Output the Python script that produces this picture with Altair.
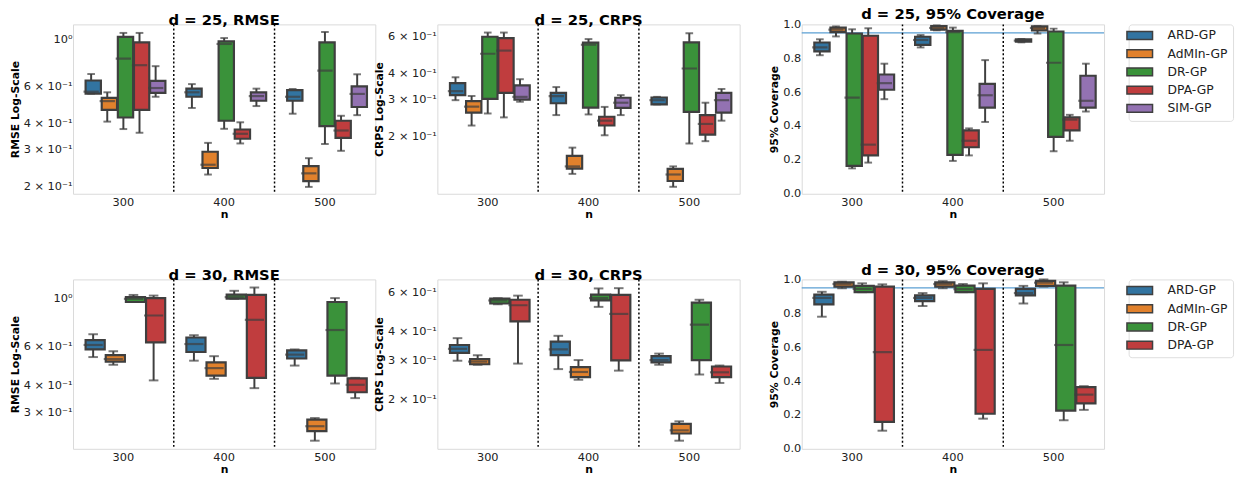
import altair as alt
import pandas as pd

# ---------------- data ----------------
N_VALUES = [300, 400, 500]
METHODS_D25 = ["ARD-GP", "AdMIn-GP", "DR-GP", "DPA-GP", "SIM-GP"]
METHODS_D30 = ["ARD-GP", "AdMIn-GP", "DR-GP", "DPA-GP"]
COLORS = ["#3274a1", "#e1812c", "#3a923a", "#c03d3e", "#9372b2"]

# five-number summaries per method: one (whisker low, Q1, median, Q3, whisker high) per n
RMSE_D25 = {
    "ARD-GP":   [(0.556, 0.556, 0.568, 0.642, 0.689), (0.475, 0.537, 0.564, 0.587, 0.617), (0.446, 0.514, 0.537, 0.578, 0.585)],
    "AdMIn-GP": [(0.409, 0.465, 0.512, 0.531, 0.564), (0.229, 0.246, 0.255, 0.294, 0.324), (0.200, 0.213, 0.232, 0.251, 0.274)],
    "DR-GP":    [(0.377, 0.428, 0.816, 1.036, 1.081), (0.378, 0.413, 0.958, 0.986, 1.022), (0.320, 0.389, 0.715, 0.975, 1.093)],
    "DPA-GP":   [(0.362, 0.465, 0.759, 0.975, 1.081), (0.322, 0.339, 0.358, 0.375, 0.406), (0.297, 0.342, 0.371, 0.413, 0.436)],
    "SIM-GP":   [(0.537, 0.560, 0.591, 0.639, 0.751), (0.485, 0.514, 0.541, 0.564, 0.587), (0.439, 0.480, 0.554, 0.602, 0.687)],
}
CRPS_D25 = {
    "ARD-GP":   [(0.299, 0.316, 0.330, 0.360, 0.384), (0.254, 0.289, 0.3125, 0.3236, 0.345), (0.2856, 0.2856, 0.299, 0.308, 0.310)],
    "AdMIn-GP": [(0.2266, 0.261, 0.2786, 0.296, 0.313), (0.1336, 0.1416, 0.145, 0.1627, 0.178), (0.116, 0.1236, 0.1327, 0.141, 0.145)],
    "DR-GP":    [(0.2585, 0.303, 0.4966, 0.598, 0.626), (0.2558, 0.2757, 0.548, 0.5605, 0.583), (0.186, 0.2633, 0.4228, 0.5628, 0.6216)],
    "DPA-GP":   [(0.2477, 0.3236, 0.514, 0.589, 0.626), (0.2037, 0.2266, 0.239, 0.2495, 0.2778), (0.191, 0.205, 0.2306, 0.254, 0.2908)],
    "SIM-GP":   [(0.294, 0.301, 0.310, 0.3514, 0.376), (0.254, 0.2748, 0.2908, 0.307, 0.316), (0.239, 0.261, 0.299, 0.3236, 0.338)],
}
COV_D25 = {
    "ARD-GP":   [(0.818, 0.841, 0.864, 0.893, 0.912), (0.864, 0.879, 0.908, 0.927, 0.937), (0.894, 0.898, 0.904, 0.912, 0.914)],
    "AdMIn-GP": [(0.929, 0.954, 0.969, 0.981, 0.988), (0.965, 0.969, 0.979, 0.990, 0.994), (0.946, 0.965, 0.979, 0.988, 0.990)],
    "DR-GP":    [(0.150, 0.165, 0.568, 0.946, 0.971), (0.194, 0.230, 0.954, 0.962, 0.981), (0.251, 0.336, 0.7735, 0.958, 0.975)],
    "DPA-GP":   [(0.184, 0.2265, 0.290, 0.933, 0.977), (0.2265, 0.2745, 0.313, 0.374, 0.386), (0.313, 0.374, 0.4376, 0.451, 0.466)],
    "SIM-GP":   [(0.5585, 0.614, 0.653, 0.704, 0.768), (0.424, 0.5086, 0.5816, 0.649, 0.789), (0.4856, 0.5086, 0.549, 0.697, 0.768)],
}
RMSE_D30 = {
    "ARD-GP":   [(0.538, 0.583, 0.611, 0.643, 0.684), (0.518, 0.5675, 0.617, 0.661, 0.677), (0.492, 0.530, 0.552, 0.577, 0.583)],
    "AdMIn-GP": [(0.496, 0.513, 0.527, 0.549, 0.5715), (0.428, 0.443, 0.479, 0.509, 0.543), (0.2233, 0.247, 0.260, 0.2785, 0.2833)],
    "DR-GP":    [(0.960, 0.960, 0.993, 1.010, 1.034), (0.993, 0.993, 1.010, 1.037, 1.080), (0.4076, 0.443, 0.715, 0.960, 1.000)],
    "DPA-GP":   [(0.421, 0.628, 0.833, 1.000, 1.027), (0.388, 0.4325, 0.796, 1.034, 1.118), (0.3494, 0.3715, 0.402, 0.430, 0.4325)],
}
CRPS_D30 = {
    "ARD-GP":   [(0.298, 0.3227, 0.3366, 0.350, 0.3754), (0.2735, 0.3155, 0.3346, 0.3623, 0.3845), (0.286, 0.2932, 0.300, 0.3124, 0.3205)],
    "AdMIn-GP": [(0.286, 0.2874, 0.2953, 0.303, 0.3155), (0.2453, 0.252, 0.2656, 0.279, 0.300), (0.1315, 0.1415, 0.1462, 0.1562, 0.1603)],
    "DR-GP":    [(0.531, 0.535, 0.552, 0.563, 0.565), (0.517, 0.5525, 0.5655, 0.586, 0.6243), (0.2588, 0.300, 0.431, 0.540, 0.556)],
    "DPA-GP":   [(0.2894, 0.4458, 0.5255, 0.556, 0.580), (0.2693, 0.299, 0.481, 0.585, 0.626), (0.2374, 0.252, 0.2647, 0.281, 0.2837)],
}
COV_D30 = {
    "ARD-GP":   [(0.780, 0.8525, 0.891, 0.910, 0.927), (0.843, 0.8716, 0.891, 0.906, 0.9195), (0.858, 0.906, 0.9195, 0.944, 0.962)],
    "AdMIn-GP": [(0.948, 0.958, 0.973, 0.983, 0.9866), (0.948, 0.958, 0.973, 0.983, 0.990), (0.958, 0.962, 0.981, 0.992, 1.000)],
    "DR-GP":    [(0.925, 0.925, 0.944, 0.962, 0.977), (0.925, 0.925, 0.9425, 0.9636, 0.973), (0.1686, 0.226, 0.613, 0.9636, 0.983)],
    "DPA-GP":   [(0.107, 0.159, 0.571, 0.958, 0.971), (0.178, 0.207, 0.584, 0.944, 0.977), (0.230, 0.268, 0.320, 0.364, 0.370)],
}

RMSE_TICKS = [0.2, 0.3, 0.4, 0.6, 1.0]
CRPS_TICKS = [0.2, 0.3, 0.4, 0.6]
COV_TICKS = [0.0, 0.2, 0.4, 0.6, 0.8, 1.0]
TARGET_COVERAGE = [0.95]
SEPARATORS = [300, 400]

# ---------------- styling ----------------
FONT = "DejaVu Sans"
GRAY = "#3f3f3f"
PW, PH = 307, 172
LOG_LABEL = "datum.value >= 0.99 ? '10\u2070' : format(datum.value * 10, '.0f') + ' \u00d7 10\u207b\u00b9'"


def panel(stats, methods, title, ytitle, ydomain, ytype, yticks, legend_on):
    rows = []
    for m in methods:
        for n, (lo, q1, med, q3, hi) in zip(N_VALUES, stats[m]):
            rows.append(dict(n=n, method=m, lo=lo, q1=q1, med=med, q3=q3, hi=hi))
    df = pd.DataFrame(rows)
    k = len(methods)
    pad = (k / 0.8 - k) / 2
    step = PW / 3 / (k + 2 * pad)
    boxw = step * 0.95

    if ytype == "log":
        yscale = alt.Scale(type="log", domain=ydomain, nice=False)
        yaxis = alt.Axis(title=ytitle, values=yticks, labelExpr=LOG_LABEL)
    else:
        yscale = alt.Scale(domain=ydomain, nice=False, zero=False)
        yaxis = alt.Axis(title=ytitle, values=yticks, format=".1f")

    xenc = alt.X("n:O", scale=alt.Scale(paddingInner=0, paddingOuter=0),
                 axis=alt.Axis(title="n", labelAngle=0))
    xoff = alt.XOffset("method:N", sort=methods,
                       scale=alt.Scale(domain=methods, paddingInner=0, paddingOuter=pad))

    def Y(field):
        return alt.Y(f"{field}:Q", scale=yscale, axis=yaxis)

    base = alt.Chart(df)
    whisk = base.mark_rule(color=GRAY, strokeWidth=2).encode(
        x=xenc, xOffset=xoff, y=Y("lo"), y2="hi:Q")
    if legend_on:
        leg = alt.Legend(
            title=None, orient="none", legendX=PW + 25, legendY=0,
            symbolType="M-3.25,-1H3.25V1H-3.25Z", symbolSize=64,
            symbolStrokeColor=GRAY, symbolStrokeWidth=1.5, symbolOpacity=1,
            labelFont=FONT, labelFontSize=12.5, labelColor="#222222",
            labelOffset=22, padding=5, rowPadding=3.5,
            strokeColor="#dddddd", fillColor="white", cornerRadius=3,
        )
    else:
        leg = None
    box = base.mark_bar(stroke=GRAY, strokeWidth=2.2, opacity=1,
                        width=alt.RelativeBandSize(0.95)).encode(
        x=xenc, xOffset=xoff, y=Y("q1"), y2="q3:Q",
        color=alt.Color("method:N", scale=alt.Scale(domain=methods, range=COLORS[:k]),
                        legend=leg))
    median = base.mark_tick(color=GRAY, thickness=2.2, size=boxw).encode(
        x=xenc, xOffset=xoff, y=Y("med"))
    cap_lo = base.mark_tick(color=GRAY, thickness=2, size=boxw / 2).encode(
        x=xenc, xOffset=xoff, y=Y("lo"))
    cap_hi = base.mark_tick(color=GRAY, thickness=2, size=boxw / 2).encode(
        x=xenc, xOffset=xoff, y=Y("hi"))
    sep = alt.Chart(pd.DataFrame({"n": SEPARATORS})).mark_rule(
        color="black", strokeWidth=1.5, strokeDash=[2, 2.2]).encode(
        x=alt.X("n:O", bandPosition=1, scale=alt.Scale(paddingInner=0, paddingOuter=0),
                axis=alt.Axis(title="n", labelAngle=0)))

    layers = []
    if ytype != "log":
        layers.append(alt.Chart(pd.DataFrame({"target": TARGET_COVERAGE})).mark_rule(
            color="#5b9fd3", strokeWidth=1.3).encode(y=Y("target")))
    layers += [whisk, box, median, cap_lo, cap_hi, sep]
    return alt.layer(*layers).properties(
        width=PW, height=PH,
        title=alt.TitleParams(title, font=FONT, fontSize=15, fontWeight="bold",
                              color="black", offset=-4, frame="group"),
    )


def row(d, methods, rmse, crps, cov, rmse_dom, crps_dom):
    p1 = panel(rmse, methods, f"d = {d}, RMSE", "RMSE Log-Scale", rmse_dom, "log", RMSE_TICKS, False)
    p2 = panel(crps, methods, f"d = {d}, CRPS", "CRPS Log-Scale", crps_dom, "log", CRPS_TICKS, False)
    p3 = panel(cov, methods, f"d = {d}, 95% Coverage", "95% Coverage", [0, 1], "linear", COV_TICKS, True)
    return alt.HConcatChart(hconcat=[p1, p2, p3], spacing=63, bounds="flush").resolve_scale(
        x="independent", y="independent", xOffset="independent", color="independent")


row1 = row(25, METHODS_D25, RMSE_D25, CRPS_D25, COV_D25, [0.1855, 1.187], [0.1075, 0.6845])
row2 = row(30, METHODS_D30, RMSE_D30, CRPS_D30, COV_D30, [0.205, 1.217], [0.121, 0.6845])

chart = alt.VConcatChart(vconcat=[row1, row2], spacing=42).resolve_scale(
    x="independent", y="independent", xOffset="independent", color="independent"
).properties(
    padding={"left": 0, "top": -5, "right": 2, "bottom": 0},
).configure_view(
    stroke="#d9d9d9", strokeWidth=1
).configure_axis(
    labelFont=FONT, titleFont=FONT, labelFontSize=11.5, titleFontSize=11,
    titleFontWeight="bold", labelColor="#222222", titleColor="black",
    ticks=False, domain=False, grid=False, labelPadding=1, titlePadding=3,
).configure_axisX(titlePadding=1, labelPadding=3)

chart.save("out.html", embed_options={"renderer": "svg", "actions": False})
